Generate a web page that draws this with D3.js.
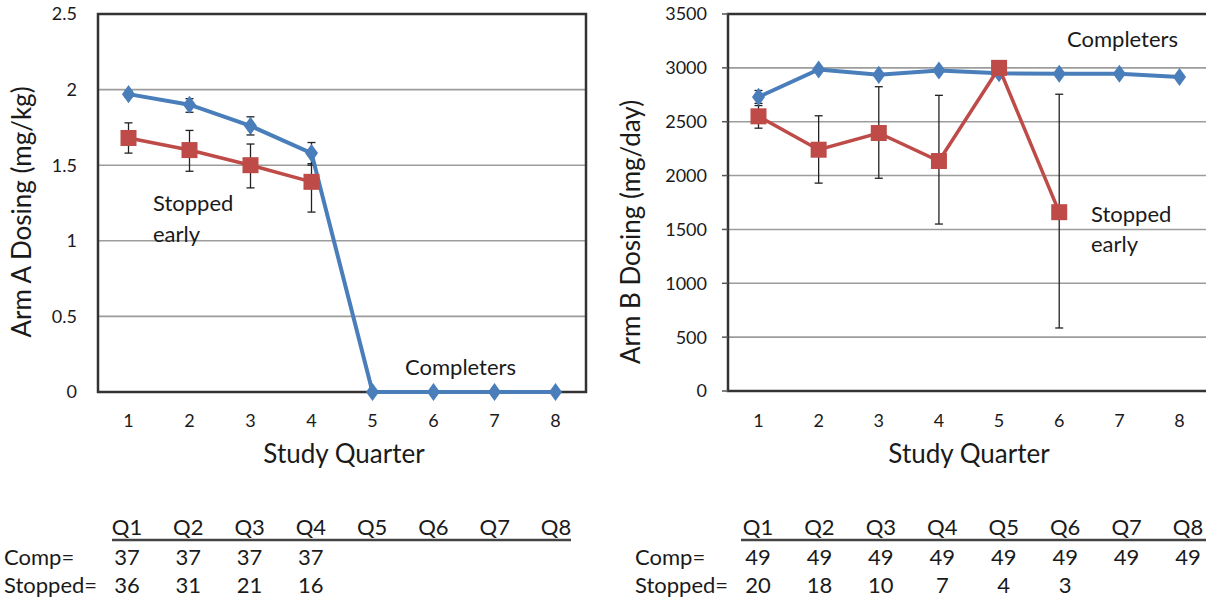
<!DOCTYPE html>
<html>
<head>
<meta charset="utf-8">
<script src="https://cdn.jsdelivr.net/npm/d3@7"></script>
<style>
  body { margin: 0; background: #fff; }
  svg { display: block; font-family: Lato, "Noto Sans", sans-serif; }
</style>
</head>
<body>
<div id="chart"></div>
<script>
// study quarters shared by both panels
const quarters = [1, 2, 3, 4, 5, 6, 7, 8];
const quarterLabels = ['Q1', 'Q2', 'Q3', 'Q4', 'Q5', 'Q6', 'Q7', 'Q8'];

// Arm A (mg/kg)
const armATicks = [0, 0.5, 1, 1.5, 2, 2.5];
const armAComp = [1.97, 1.90, 1.76, 1.58, 0, 0, 0, 0];
const armACompLo = [1.95, 1.85, 1.70, 1.50, 0, 0, 0, 0];
const armACompHi = [1.99, 1.94, 1.82, 1.65, 0, 0, 0, 0];
const armAStop = [1.68, 1.60, 1.50, 1.39];
const armAStopLo = [1.58, 1.46, 1.35, 1.19];
const armAStopHi = [1.78, 1.73, 1.64, 1.51];

// Arm B (mg/day)
const armBTicks = [0, 500, 1000, 1500, 2000, 2500, 3000, 3500];
const armBComp = [2730, 2985, 2935, 2975, 2950, 2945, 2945, 2915];
const armBCompLo = [2670, 2985, 2935, 2975, 2950, 2945, 2945, 2915];
const armBCompHi = [2790, 2985, 2935, 2975, 2950, 2945, 2945, 2915];
const armBStop = [2550, 2240, 2395, 2135, 3000, 1660];
const armBStopLo = [2440, 1930, 1975, 1550, 3000, 585];
const armBStopHi = [2650, 2555, 2825, 2745, 3000, 2755];

// patient counts under each panel
const armACompN = [37, 37, 37, 37];
const armAStopN = [36, 31, 21, 16];
const armBCompN = [49, 49, 49, 49, 49, 49, 49, 49];
const armBStopN = [20, 18, 10, 7, 4, 3];

const BLUE = '#4a7ebb';
const RED = '#be4b48';
const INK = '#1a1a1a';

const svg = d3.select('#chart').append('svg')
    .attr('width', 1206)
    .attr('height', 603);

function drawPanel(p) {
    const g = svg.append('g');
    const x = d3.scalePoint().domain(quarters).range([p.left + 30.5, p.right - 30.5]);
    const y = d3.scaleLinear().domain([0, p.max]).range([p.bottom, p.top]);

    // gridlines
    g.selectAll('.grid').data(p.ticks.slice(1))
        .enter().append('line')
        .attr('x1', p.left).attr('x2', p.right)
        .attr('y1', d => y(d)).attr('y2', d => y(d))
        .style('stroke', '#9c9c9c').style('stroke-width', 1.6);

    // plot frame
    g.append('rect')
        .attr('x', p.left).attr('y', p.top)
        .attr('width', p.right - p.left).attr('height', p.bottom - p.top)
        .style('fill', 'none').style('stroke', '#333').style('stroke-width', 2.5);

    if (p.tickMarks) {
        g.selectAll('.tick-mark').data(p.ticks)
            .enter().append('line')
            .attr('x1', p.left - 6).attr('x2', p.left)
            .attr('y1', d => y(d)).attr('y2', d => y(d))
            .style('stroke', '#555').style('stroke-width', 1.5);
    }

    // y tick labels
    g.selectAll('.ylab').data(p.ticks)
        .enter().append('text')
        .attr('x', p.left - 21).attr('y', d => y(d)).attr('dy', '0.36em')
        .style('text-anchor', 'end').style('font-size', '18px').style('fill', INK)
        .text(d => d);

    // x tick labels
    g.selectAll('.xlab').data(quarters)
        .enter().append('text')
        .attr('x', d => x(d)).attr('y', 427)
        .style('text-anchor', 'middle').style('font-size', '18px').style('fill', INK)
        .text(d => d);

    g.append('text')
        .attr('x', p.titleX).attr('y', 463)
        .style('text-anchor', 'middle').style('font-size', '26px').style('fill', INK)
        .text('Study Quarter');

    g.append('text')
        .attr('transform', `translate(${p.yTitleX},${p.yTitleY}) rotate(-90)`)
        .style('text-anchor', 'middle').style('font-size', '26px').style('fill', INK)
        .text(p.yTitle);

    // error bars
    const bars = [];
    p.comp.forEach((v, i) => bars.push({ q: quarters[i], lo: p.compLo[i], hi: p.compHi[i] }));
    p.stop.forEach((v, i) => bars.push({ q: quarters[i], lo: p.stopLo[i], hi: p.stopHi[i] }));
    const eb = g.selectAll('.err').data(bars.filter(b => b.hi > b.lo)).enter().append('g');
    eb.append('line')
        .attr('x1', d => x(d.q)).attr('x2', d => x(d.q))
        .attr('y1', d => y(d.lo)).attr('y2', d => y(d.hi));
    eb.append('line')
        .attr('x1', d => x(d.q) - 4).attr('x2', d => x(d.q) + 4)
        .attr('y1', d => y(d.lo)).attr('y2', d => y(d.lo));
    eb.append('line')
        .attr('x1', d => x(d.q) - 4).attr('x2', d => x(d.q) + 4)
        .attr('y1', d => y(d.hi)).attr('y2', d => y(d.hi));
    eb.selectAll('line').style('stroke', '#222').style('stroke-width', 1.3);

    const line = d3.line().x((d, i) => x(quarters[i])).y(d => y(d));

    // completers
    g.append('path').attr('d', line(p.comp))
        .style('fill', 'none').style('stroke', BLUE).style('stroke-width', 4);
    g.selectAll('.diamond').data(p.comp).enter().append('path')
        .attr('d', d3.symbol(d3.symbolDiamond, 95))
        .attr('transform', (d, i) => `translate(${x(quarters[i])},${y(d)}) scale(1.25,1)`)
        .style('fill', BLUE);

    // stopped early
    g.append('path').attr('d', line(p.stop))
        .style('fill', 'none').style('stroke', RED).style('stroke-width', 3.5);
    g.selectAll('.square').data(p.stop).enter().append('rect')
        .attr('x', (d, i) => x(quarters[i]) - 8).attr('y', d => y(d) - 8)
        .attr('width', 16).attr('height', 16)
        .style('fill', RED);

    // annotations
    g.selectAll('.note').data(p.notes).enter().append('text')
        .attr('x', d => d.x).attr('y', d => d.y)
        .style('font-size', '22px').style('fill', INK)
        .text(d => d.t);

    // count table
    const tx = d3.scalePoint().domain(quarterLabels).range(p.tableRange);
    g.selectAll('.qh').data(quarterLabels).enter().append('text')
        .attr('x', d => tx(d)).attr('y', 535)
        .style('text-anchor', 'middle').style('font-size', '22px').style('fill', INK)
        .text(d => d);
    g.append('line')
        .attr('x1', p.ruleRange[0]).attr('x2', p.ruleRange[1])
        .attr('y1', 540).attr('y2', 540)
        .style('stroke', '#444').style('stroke-width', 2.5);
    [['Comp=', p.compN, 565], ['Stopped=', p.stopN, 593]].forEach(([lab, vals, yy]) => {
        g.append('text').attr('x', p.tableLabelX).attr('y', yy)
            .style('font-size', '22px').style('fill', INK).text(lab);
        g.selectAll(null).data(vals).enter().append('text')
            .attr('x', (d, i) => tx(quarterLabels[i])).attr('y', yy)
            .style('text-anchor', 'middle').style('font-size', '22px').style('fill', INK)
            .text(d => d);
    });
}

drawPanel({
    left: 98, right: 586, top: 14, bottom: 392, max: 2.5, ticks: armATicks,
    comp: armAComp, compLo: armACompLo, compHi: armACompHi,
    stop: armAStop, stopLo: armAStopLo, stopHi: armAStopHi,
    yTitle: 'Arm A Dosing (mg/kg)', yTitleX: 31, yTitleY: 212, titleX: 344,
    tickMarks: false,
    notes: [{ t: 'Stopped', x: 153, y: 211 }, { t: 'early', x: 153, y: 242 },
            { t: 'Completers', x: 405, y: 375 }],
    tableRange: [127, 556], ruleRange: [112, 571], tableLabelX: 4,
    compN: armACompN, stopN: armAStopN
});

drawPanel({
    left: 728, right: 1210, top: 14, bottom: 391, max: 3500, ticks: armBTicks,
    comp: armBComp, compLo: armBCompLo, compHi: armBCompHi,
    stop: armBStop, stopLo: armBStopLo, stopHi: armBStopHi,
    yTitle: 'Arm B Dosing (mg/day)', yTitleX: 640, yTitleY: 232, titleX: 969,
    tickMarks: true,
    notes: [{ t: 'Completers', x: 1067, y: 47 }, { t: 'Stopped', x: 1091, y: 222 },
            { t: 'early', x: 1091, y: 252 }],
    tableRange: [758, 1188], ruleRange: [741, 1206], tableLabelX: 635,
    compN: armBCompN, stopN: armBStopN
});
</script>
</body>
</html>
